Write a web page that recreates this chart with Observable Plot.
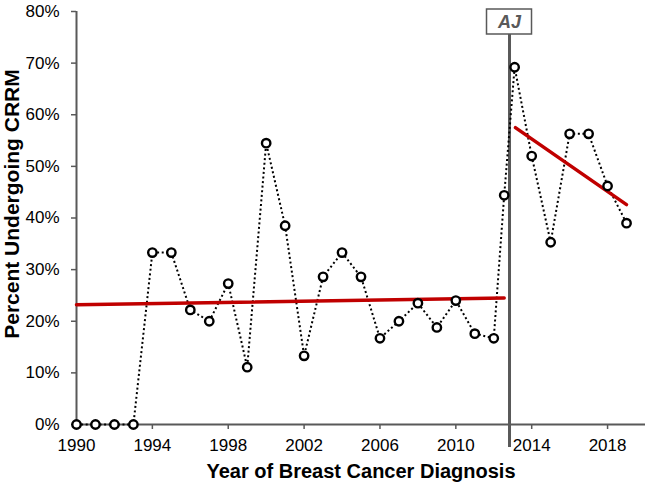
<!DOCTYPE html>
<html>
<head>
<meta charset="utf-8">
<script src="https://cdn.jsdelivr.net/npm/d3@7"></script>
<script src="https://cdn.jsdelivr.net/npm/@observablehq/plot@0.6"></script>
<style>
  body { margin: 0; background: #fff; }
  svg { font-family: "Liberation Sans", Arial, sans-serif; }
</style>
</head>
<body>
<div id="chart"></div>
<script>
// Data
const years = [1990, 1991, 1992, 1993, 1994, 1995, 1996, 1997, 1998, 1999,
  2000, 2001, 2002, 2003, 2004, 2005, 2006, 2007, 2008, 2009,
  2010, 2011, 2012, 2012.55, 2013.1, 2014, 2015, 2016, 2017, 2018, 2019];
const percents = [0, 0, 0, 0, 33.3, 33.3, 22.2, 20.0, 27.3, 11.1,
  54.5, 38.5, 13.3, 28.6, 33.3, 28.6, 16.7, 20.0, 23.5, 18.8,
  24.0, 17.6, 16.7, 44.4, 69.2, 52.0, 35.3, 56.3, 56.3, 46.2, 39.0];

const trendPreYears = [1990, 2012.55];
const trendPreValues = [23.2, 24.5];
const trendPostYears = [2013.14, 2019];
const trendPostValues = [57.5, 42.6];

const ajYears = [2012.83];
const ajLabels = ["AJ"];

const xTicks = [1990, 1994, 1998, 2002, 2006, 2010, 2014, 2018];
const yTicks = [0, 10, 20, 30, 40, 50, 60, 70, 80];

const points = years.map((year, i) => ({year, value: percents[i]}));
const trendPre = trendPreYears.map((year, i) => ({year, value: trendPreValues[i]}));
const trendPost = trendPostYears.map((year, i) => ({year, value: trendPostValues[i]}));
const aj = ajYears.map((year, i) => ({year, label: ajLabels[i]}));

const gray = "#595959";
const red = "#C00000";

const chart = Plot.plot({
  width: 645,
  height: 484,
  marginTop: 11,
  marginRight: 0,
  marginBottom: 60,
  marginLeft: 76,
  style: {fontFamily: '"Liberation Sans", Arial, sans-serif', fontSize: "17px", color: "#000", background: "#fff", overflow: "visible"},
  x: {domain: [1990, 2020]},
  y: {domain: [0, 80]},
  marks: [
    Plot.axisY({ticks: yTicks, tickFormat: d => d + "%", tickSize: 5, tickPadding: 12, fontSize: 17, label: null, stroke: gray, strokeWidth: 1.5}),
    Plot.axisX({ticks: xTicks, tickFormat: d => String(d), tickSize: 5, tickPadding: 9, fontSize: 17, label: null, stroke: gray, strokeWidth: 1.5}),
    Plot.ruleX([1990], {stroke: gray, strokeWidth: 2}),
    Plot.ruleY([0], {stroke: gray, strokeWidth: 2}),
    Plot.ruleX(aj, {x: "year", y1: 0, y2: 80, insetTop: 23, stroke: gray, strokeWidth: 3}),
    Plot.line(points, {x: "year", y: "value", stroke: "#000", strokeWidth: 2, strokeDasharray: "2,2.6", strokeLinecap: "butt"}),
    Plot.line(trendPre, {x: "year", y: "value", stroke: red, strokeWidth: 3.5}),
    Plot.line(trendPost, {x: "year", y: "value", stroke: red, strokeWidth: 3.5}),
    Plot.dot(points, {x: "year", y: "value", r: 4.2, fill: "#fff", stroke: "#000", strokeWidth: 2.4}),
    Plot.rect(aj, {x1: "year", x2: "year", y1: 80, y2: 80, insetLeft: -22.5, insetRight: -22.5, insetTop: -2, insetBottom: -23, fill: "#fff", stroke: gray, strokeWidth: 1.5}),
    Plot.text(aj, {x: "year", y: 80, text: "label", dy: 10.5, fontWeight: "bold", fontStyle: "italic", fontSize: 18, fill: gray}),
    Plot.text(["Year of Breast Cancer Diagnosis"], {frameAnchor: "bottom", dy: 53, lineAnchor: "bottom", fontWeight: "bold", fontSize: 20, fill: "#000"}),
    Plot.text(["Percent Undergoing CRRM"], {frameAnchor: "left", textAnchor: "middle", lineAnchor: "middle", rotate: -90, dx: -64, dy: -14, fontWeight: "bold", fontSize: 21, fill: "#000"})
  ]
});
document.getElementById("chart").appendChild(chart);
</script>
</body>
</html>
